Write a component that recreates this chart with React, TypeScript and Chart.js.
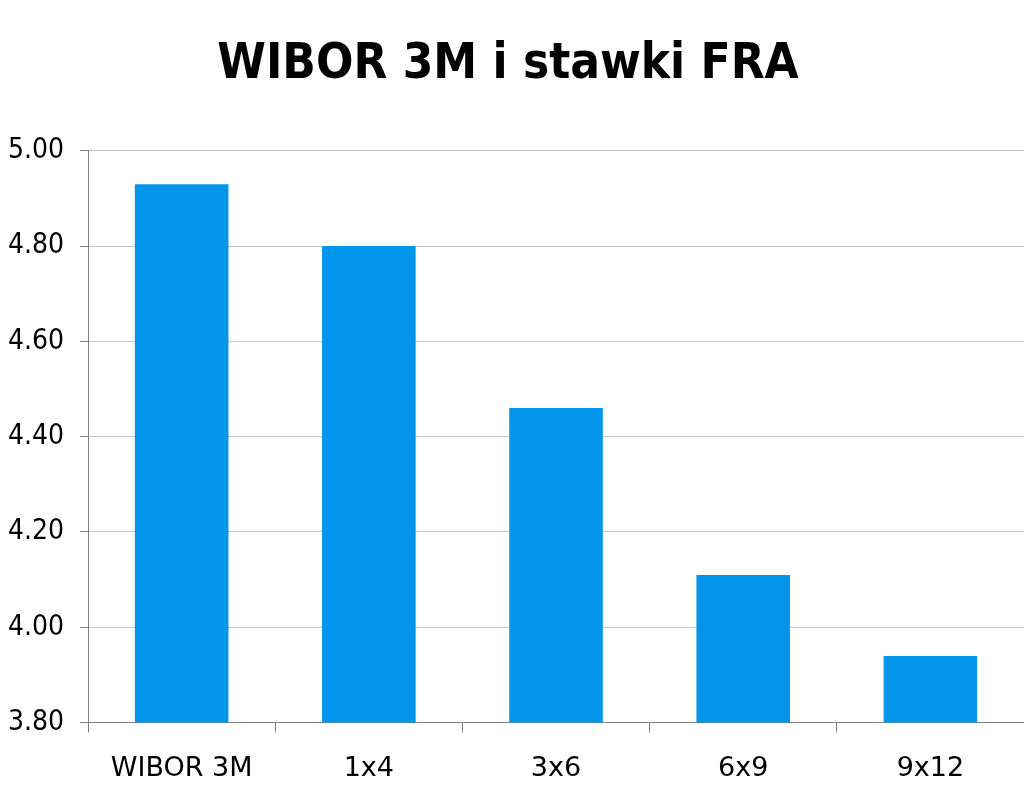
import React, { useEffect, useRef } from "react";
import { Chart, registerables } from "chart.js";

Chart.register(...registerables);

const categories = ["WIBOR 3M", "1x4", "3x6", "6x9", "9x12"];
const rates = [4.93, 4.8, 4.46, 4.11, 3.94];
const yMin = 3.8;
const yMax = 5.0;
const yStep = 0.2;
const titleText = "WIBOR 3M i stawki FRA";

export default function App() {
  const ref = useRef<HTMLCanvasElement | null>(null);
  useEffect(() => {
    document.body.style.margin = "0";
    const ctx = ref.current!;
    const chart = new Chart(ctx, {
      type: "bar",
      data: {
        labels: categories,
        datasets: [
          {
            data: rates,
            backgroundColor: "#0394EC",
            barPercentage: 0.5,
            categoryPercentage: 1,
          },
        ],
      },
      options: {
        responsive: false,
        animation: false,
        layout: { padding: { left: -8, right: 0, top: 36, bottom: -14 } },
        plugins: {
          legend: { display: false },
          tooltip: { enabled: false },
          title: {
            display: true,
            text: titleText,
            color: "#000",
            font: { family: "'DejaVu Sans Condensed', 'DejaVu Sans'", size: 49, weight: "bold" },
            padding: { top: 0, bottom: 56 },
          },
        },
        scales: {
          x: {
            grid: {
              offset: true,
              drawOnChartArea: false,
              drawTicks: true,
              tickLength: 10,
              color: "#808080",
            },
            border: { color: "#808080" },
            ticks: {
              color: "#000",
              font: { family: "'DejaVu Sans'", size: 27 },
              padding: 20,
            },
          },
          y: {
            min: yMin,
            max: yMax,
            grid: { color: "#c8c8c8", tickLength: 8, tickColor: "#808080" },
            border: { color: "#808080" },
            ticks: {
              stepSize: yStep,
              color: "#000",
              font: { family: "'DejaVu Sans Condensed', 'DejaVu Sans'", size: 28 },
              padding: 16,
              callback: (v: any) => Number(v).toFixed(2),
            },
          },
        },
      },
    });
    return () => chart.destroy();
  }, []);
  return (
    <div style={{ position: "fixed", left: 0, top: 0, width: 1024, height: 791, background: "#fff" }}>
      <canvas ref={ref} width={1024} height={791} />
    </div>
  );
}
